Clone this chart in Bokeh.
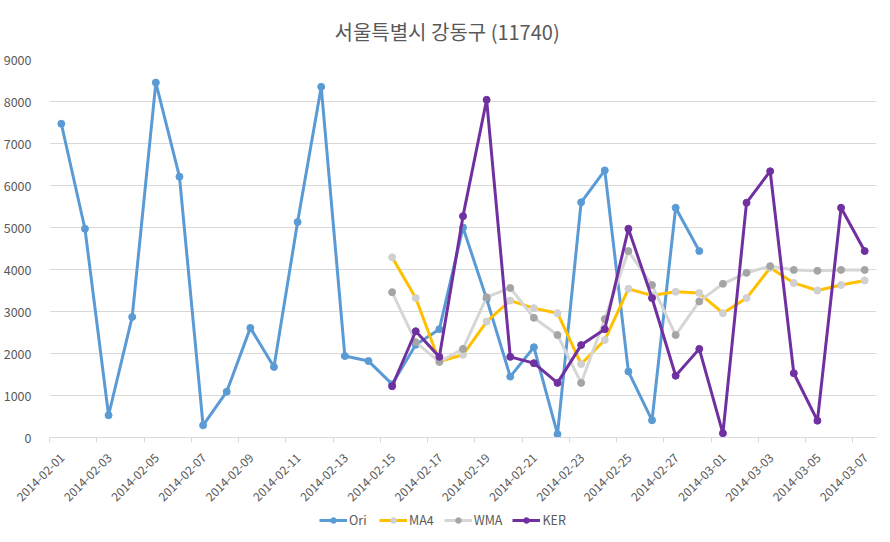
import math
import pandas as pd
from bokeh.plotting import figure
from bokeh.layouts import column
from bokeh.models import (Range1d, FixedTicker, DatetimeTickFormatter, Legend,
                          LegendItem, ColumnDataSource)
from bokeh.embed import file_html
from bokeh.resources import INLINE

title_text = "서울특별시 강동구 (11740)"

ori_start = "2014-02-01"
ori = [7470, 4970, 530, 2870, 8450, 6210, 290, 1090, 2610, 1680, 5130, 8350,
       1940, 1820, 1270, 2210, 2580, 5000, 3300, 1450, 2150, 80, 5600, 6360,
       1570, 410, 5470, 4440]

fc_start = "2014-02-15"
ma4 = [4290, 3320, 1810, 1970, 2760, 3260, 3080, 2960, 1750, 2320, 3540, 3380,
       3470, 3440, 2960, 3320, 4040, 3680, 3500, 3630, 3740]
wma = [3460, 2270, 1800, 2110, 3340, 3560, 2850, 2440, 1300, 2820, 4440, 3630,
       2440, 3240, 3660, 3920, 4080, 3990, 3970, 3990, 3990]
ker = [1220, 2530, 1920, 5270, 8040, 1920, 1770, 1300, 2200, 2580, 4970, 3320,
       1470, 2110, 100, 5590, 6340, 1530, 400, 5470, 4440]

tick_labels = ["2014-02-01", "2014-02-03", "2014-02-05", "2014-02-07", "2014-02-09",
               "2014-02-11", "2014-02-13", "2014-02-15", "2014-02-17", "2014-02-19",
               "2014-02-21", "2014-02-23", "2014-02-25", "2014-02-27", "2014-03-01",
               "2014-03-03", "2014-03-05", "2014-03-07"]
y_ticks = [0, 1000, 2000, 3000, 4000, 5000, 6000, 7000, 8000, 9000]

x_start = pd.Timestamp("2014-02-01")
x_end = pd.Timestamp("2014-03-08")

FONT = "Noto Sans CJK KR"
TXT = "#595959"
GRID = "#D9D9D9"


def dates(start, n):
    return pd.date_range(start, periods=n) + pd.Timedelta(hours=12)


p = figure(width=890, height=510, output_backend="svg", toolbar_location=None,
           x_axis_type="datetime",
           x_range=Range1d(x_start, x_end), y_range=Range1d(0, 9000),
           min_border_left=48, min_border_right=14, min_border_top=59,
           min_border_bottom=73)
p.outline_line_color = None
p.background_fill_color = "white"
p.border_fill_color = "white"

p.title.text = title_text
p.title.align = "left"
p.title.offset = 285
p.title.text_font = FONT
p.title.text_font_size = "20px"
p.title.text_font_style = "normal"
p.title.text_color = TXT
p.title.standoff = 28

fmt = "%Y-%m-%d"

# tick marks at the day boundaries (minor ticks), labels a little to the right
# of each mark (major ticks), as Excel places rotated date labels
tick_ms = [int(pd.Timestamp(t).value // 10**6) for t in tick_labels]
label_shift_ms = 13 * 3600 * 1000
p.xaxis.ticker = FixedTicker(ticks=[t + label_shift_ms for t in tick_ms],
                             minor_ticks=tick_ms)
p.xaxis.formatter = DatetimeTickFormatter(days=fmt, months=fmt, years=fmt, hours=fmt,
                                          hourmin=fmt, minutes=fmt, minsec=fmt,
                                          seconds=fmt, milliseconds=fmt,
                                          microseconds=fmt)
p.xaxis.axis_line_color = GRID
p.xaxis.major_tick_line_color = None
p.xaxis.major_tick_out = 0
p.xaxis.major_tick_in = 0
p.xaxis.minor_tick_line_color = GRID
p.xaxis.minor_tick_out = 5
p.xaxis.minor_tick_in = 0
p.xaxis.major_label_orientation = math.pi / 4
p.xaxis.major_label_text_font = FONT
p.xaxis.major_label_text_font_size = "12px"
p.xaxis.major_label_text_color = TXT
p.xaxis.major_label_standoff = 13

p.yaxis.ticker = FixedTicker(ticks=y_ticks)
p.yaxis.axis_line_color = None
p.yaxis.major_tick_line_color = None
p.yaxis.minor_tick_line_color = None
p.yaxis.major_label_text_font = FONT
p.yaxis.major_label_text_font_size = "12.5px"
p.yaxis.major_label_text_color = TXT
p.yaxis.major_label_standoff = 12

p.xgrid.grid_line_color = None
p.ygrid.grid_line_color = GRID
p.ygrid.grid_line_width = 1

series = [
    ("Ori", ori_start, ori, "#5B9BD5", "#5B9BD5"),
    ("MA4", fc_start, ma4, "#FFC000", "#D0D0D0"),
    ("WMA", fc_start, wma, "#D6D6D6", "#A5A5A5"),
    ("KER", fc_start, ker, "#7030A0", "#7030A0"),
]

# legend strip below the chart (its own ranges keep the series out of view)
lp = figure(width=890, height=23, output_backend="svg", toolbar_location=None,
            x_range=Range1d(0, 1), y_range=Range1d(0, 1),
            min_border=0, min_border_left=0, min_border_right=0,
            min_border_top=0, min_border_bottom=0)
lp.axis.visible = False
lp.grid.visible = False
lp.outline_line_color = None
lp.background_fill_color = "white"
lp.border_fill_color = "white"

items = []
for name, start, vals, lc, mc in series:
    src = ColumnDataSource(dict(x=dates(start, len(vals)), y=vals))
    p.line("x", "y", source=src, line_color=lc, line_width=3, line_join="round")
    p.scatter("x", "y", source=src, size=7, fill_color=mc, line_color=mc)
    ln = lp.line("x", "y", source=src, line_color=lc, line_width=3)
    sc = lp.scatter("x", "y", source=src, size=7, fill_color=mc, line_color=mc)
    items.append(LegendItem(label=name, renderers=[ln, sc], index=0))

legend = Legend(items=items, orientation="horizontal", location=(270, 4),
                label_text_font=FONT, label_text_font_size="12.5px",
                label_text_color=TXT, border_line_color=None,
                background_fill_alpha=0, glyph_width=28, glyph_height=14,
                spacing=10, label_standoff=2, padding=0, margin=0,
                label_height=14)
lp.add_layout(legend, "center")

layout = column(p, lp, spacing=0)
open("out.html", "w").write(file_html(layout, INLINE))
